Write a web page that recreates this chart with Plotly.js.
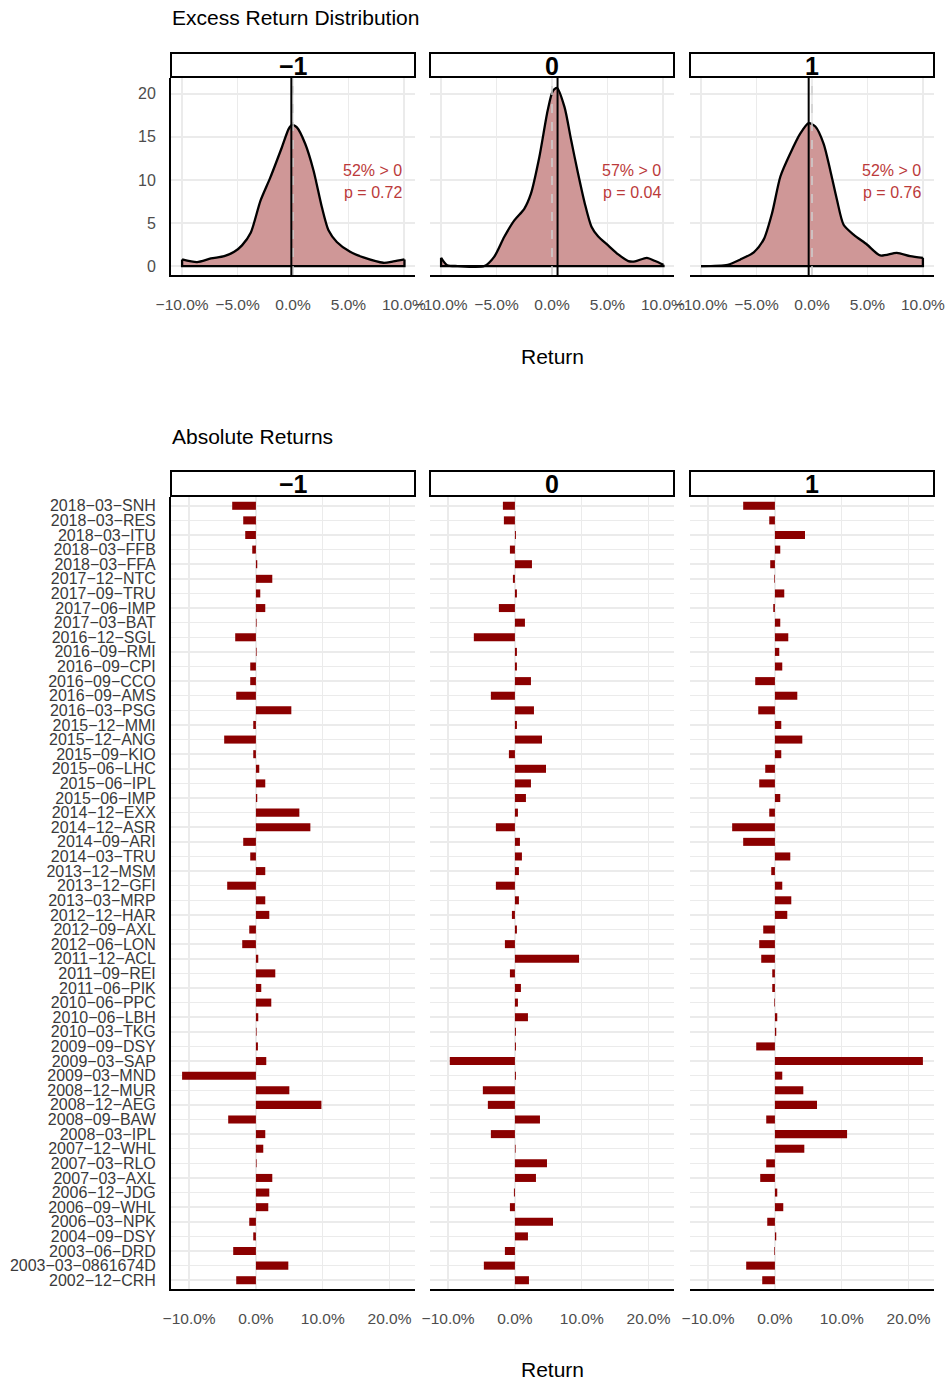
<!DOCTYPE html>
<html><head><meta charset="utf-8">
<script src="https://cdn.plot.ly/plotly-3.0.1.min.js"></script>
<style>html,body{margin:0;padding:0;background:#fff}#chart{width:948px;height:1382px}</style>
</head><body><div id="chart"></div>
<script>
// ---------------- DATA ----------------
const facets = ["−1", "0", "1"];

// density of excess returns (x in %, y = density)
const densXm1 = [-10, -8.65, -7.4, -6.2, -5.3, -4.6, -3.8, -2.93, -2.04, -1.0, -0.4, -0.1, 0.35, 1.1, 1.85, 2.6, 3.2, 3.95, 5.15, 6.35, 8.15, 9.05, 10.05];
const densYm1 = [0.77, 0.46, 0.88, 1.15, 1.65, 2.4, 3.9, 7.6, 10.3, 13.8, 15.9, 16.4, 16.1, 14.2, 11.1, 6.85, 4.15, 2.8, 1.65, 1.0, 0.38, 0.54, 0.77];
const densX0 = [-10, -9.45, -8.5, -6.1, -5.2, -4.3, -3.4, -2.5, -1.9, -1.15, -0.4, 0.06, 0.45, 1.13, 1.73, 2.34, 2.95, 3.55, 4.15, 5.06, 5.97, 6.88, 7.49, 8.55, 9.3, 10.05];
const densY0 = [0.96, 0.1, 0.0, 0.0, 1.1, 3.4, 5.3, 6.65, 8.4, 12.6, 18.0, 20.3, 20.7, 18.45, 14.6, 10.8, 7.3, 4.6, 3.45, 2.4, 1.35, 0.58, 0.54, 0.96, 0.58, 0.15];
const densX1 = [-10, -7.6, -6.45, -5.25, -4.35, -3.6, -2.85, -1.95, -1.05, -0.3, 0.3, 1.05, 1.65, 2.25, 2.85, 3.75, 4.95, 6.15, 7.65, 8.85, 10.0];
const densY1 = [0, 0.15, 0.77, 1.6, 3.1, 6.15, 10.4, 13.1, 15.4, 16.6, 16.2, 14.2, 11.1, 7.7, 4.8, 3.65, 2.5, 1.23, 1.54, 1.15, 0.96];

const medianLine = [-0.15, 0.5, -0.3];
const zeroLine = [0, 0, 0];
const pctAbove = ["52% > 0", "57% > 0", "52% > 0"];
const pValues = ["p = 0.72", "p = 0.04", "p = 0.76"];

const densTickVals = [-10, -5, 0, 5, 10];
const densTickText = ["−10.0%", "−5.0%", "0.0%", "5.0%", "10.0%"];
const densYTickVals = [0, 5, 10, 15, 20];
const densYTickText = ["0", "5", "10", "15", "20"];

const categories = [
  "2018−03−SNH","2018−03−RES","2018−03−ITU","2018−03−FFB","2018−03−FFA","2017−12−NTC","2017−09−TRU","2017−06−IMP","2017−03−BAT",
  "2016−12−SGL","2016−09−RMI","2016−09−CPI","2016−09−CCO","2016−09−AMS","2016−03−PSG","2015−12−MMI","2015−12−ANG","2015−09−KIO",
  "2015−06−LHC","2015−06−IPL","2015−06−IMP","2014−12−EXX","2014−12−ASR","2014−09−ARI","2014−03−TRU","2013−12−MSM","2013−12−GFI",
  "2013−03−MRP","2012−12−HAR","2012−09−AXL","2012−06−LON","2011−12−ACL","2011−09−REI","2011−06−PIK","2010−06−PPC","2010−06−LBH",
  "2010−03−TKG","2009−09−DSY","2009−03−SAP","2009−03−MND","2008−12−MUR","2008−12−AEG","2008−09−BAW","2008−03−IPL","2007−12−WHL",
  "2007−03−RLO","2007−03−AXL","2006−12−JDG","2006−09−WHL","2006−03−NPK","2004−09−DSY","2003−06−DRD","2003−03−0861674D","2002−12−CRH"
];
const retM1 = [-3.55,-1.9,-1.6,-0.55,0.2,2.45,0.65,1.4,0.1,-3.1,0.1,-0.85,-0.85,-2.95,5.3,-0.4,-4.75,-0.4,0.5,1.4,0.2,6.5,8.15,-1.9,-0.85,1.4,-4.3,1.4,2.0,-1.0,-2.05,0.35,2.9,0.8,2.3,0.35,0.1,0.3,1.55,-11.05,5.0,9.8,-4.15,1.4,1.1,0.1,2.45,2.0,1.85,-1.0,-0.4,-3.4,4.85,-2.95];
const ret0 = [-1.8,-1.65,0.15,-0.75,2.55,-0.3,0.3,-2.4,1.5,-6.15,0.3,0.3,2.4,-3.6,2.85,0.3,4.05,-0.9,4.65,2.4,1.65,0.45,-2.85,0.75,1.05,0.6,-2.85,0.6,-0.45,0.3,-1.5,9.6,-0.75,0.9,0.45,1.95,0.15,0.15,-9.75,0.15,-4.8,-4.05,3.75,-3.6,0.1,4.8,3.15,-0.15,-0.75,5.7,1.95,-1.5,-4.65,2.1];
const ret1 = [-4.75,-0.85,4.5,0.8,-0.7,-0.1,1.4,-0.25,0.8,2.0,0.65,1.1,-2.95,3.35,-2.5,0.95,4.1,0.95,-1.45,-2.35,0.8,-0.85,-6.4,-4.75,2.3,-0.55,1.1,2.45,1.85,-1.75,-2.35,-2.05,-0.4,-0.4,-0.1,0.35,0.2,-2.8,22.15,1.1,4.25,6.3,-1.3,10.8,4.4,-1.3,-2.2,0.35,1.25,-1.15,0.2,-0.1,-4.3,-1.9];

const barTickVals = [-10, 0, 10, 20];
const barTickText = ["−10.0%", "0.0%", "10.0%", "20.0%"];

// ---------------- LAYOUT HELPERS ----------------
const W = 948, H = 1382;
const px = v => v / W;
const py = v => 1 - v / H;
const FONT = "Liberation Sans, Arial, Helvetica, sans-serif";
const TICKCOL = "#4D4D4D";
const GRID = "#EBEBEB";
const FILL = "rgb(207,151,151)";
const BAR = "#8B0000";
const RED = "#BB3A3A";

const panelX = [[171, 415], [430, 674], [690, 934]];
const topY = [78, 275], botY = [497, 1289];
const topStrip = [53, 77], botStrip = [471, 496];

const densX = [densXm1, densX0, densX1];
const densY = [densYm1, densY0, densY1];
const rets = [retM1, ret0, ret1];

const data = [];
const layout = {
  width: W, height: H,
  margin: {l: 0, r: 0, t: 0, b: 0},
  paper_bgcolor: "white", plot_bgcolor: "white",
  showlegend: false,
  font: {family: FONT, color: "black"},
  shapes: [], annotations: []
};

for (let i = 0; i < 3; i++) {
  const tn = i + 1, bn = i + 4;
  const xd = [px(panelX[i][0]), px(panelX[i][1])];
  // top axes
  layout["xaxis" + tn] = {
    domain: xd, anchor: "y" + tn, range: [-11, 11],
    tickmode: "array", tickvals: densTickVals, ticktext: densTickText,
    showgrid: true, gridcolor: GRID, gridwidth: 1.5, zeroline: false,
    showline: true, linecolor: "black", linewidth: 2,
    ticks: "outside", ticklen: 14, tickcolor: "rgba(0,0,0,0)",
    tickfont: {size: 15.5, color: TICKCOL, family: FONT}, fixedrange: true
  };
  layout["yaxis" + tn] = {
    domain: [py(topY[1]), py(topY[0])], anchor: "x" + tn, range: [-1.04, 21.84],
    tickmode: "array", tickvals: densYTickVals, ticktext: densYTickText, showticklabels: i === 0,
    showgrid: true, gridcolor: GRID, gridwidth: 1.5, zeroline: false,
    showline: i === 0, linecolor: "black", linewidth: 2,
    ticks: i === 0 ? "outside" : "", ticklen: 10, tickcolor: "rgba(0,0,0,0)",
    tickfont: {size: 16, color: TICKCOL, family: FONT}, fixedrange: true
  };
  // bottom axes
  layout["xaxis" + bn] = {
    domain: xd, anchor: "y" + bn, range: [-12.71, 23.81],
    tickmode: "array", tickvals: barTickVals, ticktext: barTickText,
    showgrid: true, gridcolor: GRID, gridwidth: 1.5, zeroline: false,
    showline: true, linecolor: "black", linewidth: 2,
    ticks: "outside", ticklen: 14, tickcolor: "rgba(0,0,0,0)",
    tickfont: {size: 15.5, color: TICKCOL, family: FONT}, fixedrange: true
  };
  layout["yaxis" + bn] = {
    domain: [py(botY[1]), py(botY[0])], anchor: "x" + bn,
    type: "category", categoryorder: "array", categoryarray: categories,
    tickmode: "array", tickvals: categories, ticktext: categories,
    range: [categories.length - 1 + 0.6, -0.6], showticklabels: i === 0,
    showgrid: true, gridcolor: GRID, gridwidth: 1.5, zeroline: false,
    showline: i === 0, linecolor: "black", linewidth: 2,
    ticks: i === 0 ? "outside" : "", ticklen: 10, tickcolor: "rgba(0,0,0,0)",
    tickfont: {size: 16, color: "#3A3A3A", family: FONT}, fixedrange: true
  };

  // density curve
  const xs = densX[i], ys = densY[i];
  data.push({
    type: "scatter", mode: "lines", x: xs, y: ys, xaxis: "x" + tn, yaxis: "y" + tn,
    line: {color: "black", width: 2.3, shape: "spline", smoothing: 0.7},
    fill: "tozeroy", fillcolor: FILL, hoverinfo: "skip"
  });
  const n = xs.length - 1;
  data.push({
    type: "scatter", mode: "lines",
    x: [xs[0], xs[0], xs[n], xs[n]], y: [ys[0], 0, 0, ys[n]],
    xaxis: "x" + tn, yaxis: "y" + tn,
    line: {color: "black", width: 2.3}, hoverinfo: "skip"
  });

  // bars
  data.push({
    type: "bar", orientation: "h", x: rets[i], y: categories,
    xaxis: "x" + bn, yaxis: "y" + bn, width: 0.55,
    marker: {color: BAR, line: {width: 0}}, hoverinfo: "skip"
  });

  // reference lines
  layout.shapes.push({
    type: "line", xref: "x" + tn, yref: "y" + tn + " domain",
    x0: zeroLine[i], x1: zeroLine[i], y0: 0, y1: 1,
    line: {color: "#D0D0D0", width: 1.5, dash: "dash"}
  });
  layout.shapes.push({
    type: "line", xref: "x" + tn, yref: "y" + tn + " domain",
    x0: medianLine[i], x1: medianLine[i], y0: 0, y1: 1,
    line: {color: "black", width: 2}
  });

  // strips
  [topStrip, botStrip].forEach(s => {
    layout.shapes.push({
      type: "rect", xref: "paper", yref: "paper",
      x0: xd[0], x1: xd[1], y0: py(s[1]), y1: py(s[0]),
      line: {color: "black", width: 2}, fillcolor: "white"
    });
    layout.annotations.push({
      xref: "paper", yref: "paper", x: (xd[0] + xd[1]) / 2, y: py((s[0] + s[1]) / 2 + 1),
      text: "<b>" + facets[i] + "</b>", showarrow: false, xanchor: "center", yanchor: "middle",
      font: {size: 25, color: "black", family: FONT}
    });
  });

  // stat annotations
  layout.annotations.push({
    xref: "x" + tn, yref: "y" + tn, x: 10, y: 11.1, text: pctAbove[i], showarrow: false,
    xanchor: "right", yanchor: "middle", font: {size: 16, color: RED, family: FONT}
  });
  layout.annotations.push({
    xref: "x" + tn, yref: "y" + tn, x: 10, y: 8.5, text: pValues[i], showarrow: false,
    xanchor: "right", yanchor: "middle", font: {size: 16, color: RED, family: FONT}
  });
}

// titles
layout.annotations.push(
  {xref: "paper", yref: "paper", x: px(170), y: py(17), text: "Excess Return Distribution", showarrow: false,
   xanchor: "left", yanchor: "middle", font: {size: 21, color: "black", family: FONT}},
  {xref: "paper", yref: "paper", x: px(170), y: py(436), text: "Absolute Returns", showarrow: false,
   xanchor: "left", yanchor: "middle", font: {size: 21, color: "black", family: FONT}},
  {xref: "paper", yref: "paper", x: px(552.5), y: py(357), text: "Return", showarrow: false,
   xanchor: "center", yanchor: "middle", font: {size: 21, color: "black", family: FONT}},
  {xref: "paper", yref: "paper", x: px(552.5), y: py(1369), text: "Return", showarrow: false,
   xanchor: "center", yanchor: "middle", font: {size: 21, color: "black", family: FONT}}
);

Plotly.newPlot("chart", data, layout, {displayModeBar: false, staticPlot: true});
</script>
</body></html>
